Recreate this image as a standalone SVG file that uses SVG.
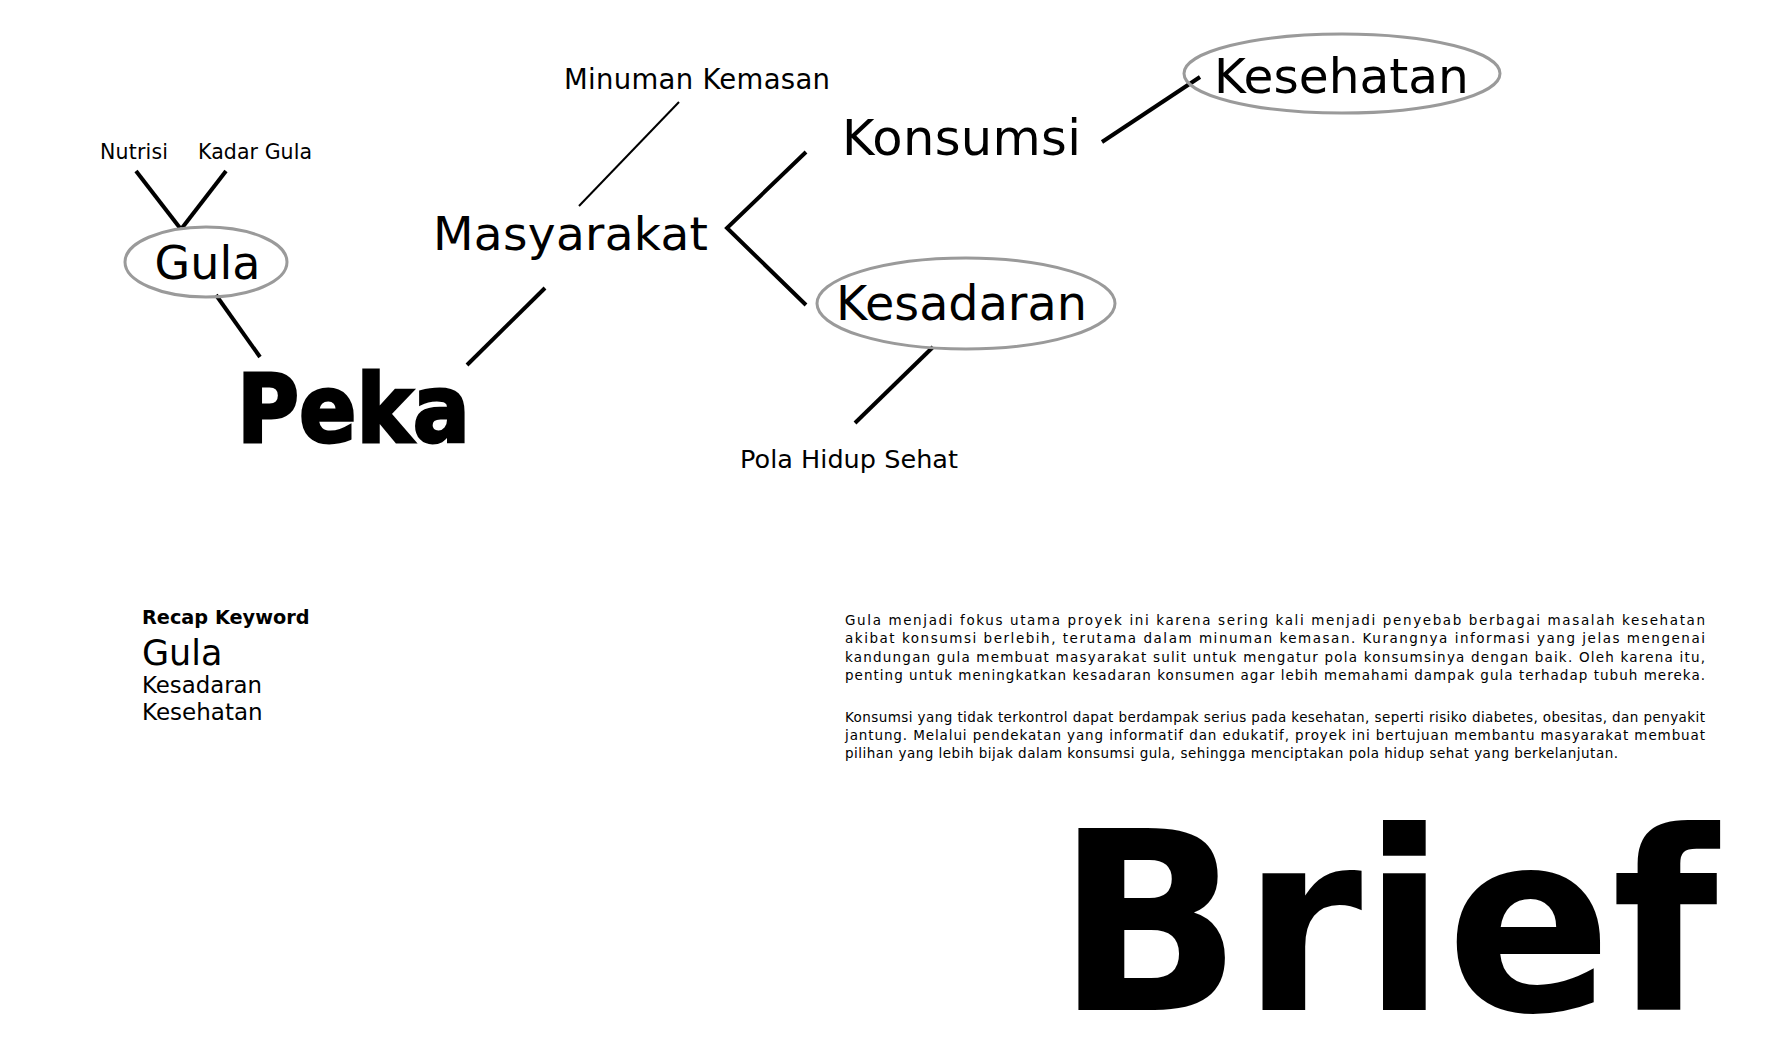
<svg xmlns="http://www.w3.org/2000/svg" width="1780" height="1052" viewBox="0 0 1780 1052">
<style>
text{font-family:"DejaVu Sans","Liberation Sans",sans-serif;fill:#000}
.b{font-weight:bold}
.ell{fill:none;stroke:#9a9a9a;stroke-width:3}
.ln{stroke:#000;stroke-width:4;fill:none;stroke-linecap:butt}
.thin{stroke:#000;stroke-width:2;fill:none}
.p{font-size:13.5px}
</style>
<rect width="1780" height="1052" fill="#fff"/>
<g id="connectors">
<line class="ln" x1="136" y1="171" x2="180" y2="228"/>
<line class="ln" x1="226" y1="171" x2="182" y2="228"/>
<line class="ln" x1="216" y1="295" x2="260" y2="357"/>
<line class="ln" x1="467" y1="365" x2="545" y2="288"/>
<line class="thin" x1="679" y1="102" x2="579" y2="206"/>
<polyline class="ln" points="806,152 727,228 806,305"/>
<line class="ln" x1="1102" y1="142" x2="1200" y2="77"/>
<line class="ln" x1="933" y1="347" x2="855" y2="423"/>
</g>
<g id="node-nutrisi"><text x="100" y="159" font-size="20.5" textLength="68">Nutrisi</text></g>
<g id="node-kadar-gula"><text x="198" y="159" font-size="20.5" textLength="114">Kadar Gula</text></g>
<g id="node-gula">
<ellipse class="ell" cx="206" cy="262" rx="81" ry="35"/>
<text x="207.5" y="279" font-size="46" text-anchor="middle">Gula</text>
</g>
<g id="node-peka"><text class="b" x="237" y="442" font-size="95" stroke="#000" stroke-width="3" textLength="233" lengthAdjust="spacingAndGlyphs">Peka</text></g>
<g id="node-minuman"><text x="564" y="89" font-size="27.5" textLength="266">Minuman Kemasan</text></g>
<g id="node-masyarakat"><text x="433" y="250" font-size="47" textLength="275">Masyarakat</text></g>
<g id="node-konsumsi"><text x="842" y="155" font-size="49.5" textLength="239">Konsumsi</text></g>
<g id="node-kesehatan">
<ellipse class="ell" cx="1342" cy="73.5" rx="158" ry="39.5"/>
<text x="1341.5" y="93" font-size="48.6" text-anchor="middle">Kesehatan</text>
</g>
<g id="node-kesadaran">
<ellipse class="ell" cx="966" cy="303.5" rx="149" ry="45.5"/>
<text x="961.5" y="320" font-size="47.7" text-anchor="middle">Kesadaran</text>
</g>
<g id="node-pola"><text x="740" y="468" font-size="25.5" textLength="218">Pola Hidup Sehat</text></g>
<g id="recap">
<text class="b" x="142" y="624" font-size="19.3">Recap Keyword</text>
<text x="142" y="665" font-size="35">Gula</text>
<text x="142" y="693" font-size="22.8">Kesadaran</text>
<text x="142" y="720" font-size="23">Kesehatan</text>
</g>
<g id="paragraph">
<text class="p" x="845" y="625" textLength="860">Gula menjadi fokus utama proyek ini karena sering kali menjadi penyebab berbagai masalah kesehatan</text>
<text class="p" x="845" y="643" textLength="860">akibat konsumsi berlebih, terutama dalam minuman kemasan. Kurangnya informasi yang jelas mengenai</text>
<text class="p" x="845" y="662" textLength="860">kandungan gula membuat masyarakat sulit untuk mengatur pola konsumsinya dengan baik. Oleh karena itu,</text>
<text class="p" x="845" y="680" textLength="860">penting untuk meningkatkan kesadaran konsumen agar lebih memahami dampak gula terhadap tubuh mereka.</text>
<text class="p" x="845" y="722" textLength="860">Konsumsi yang tidak terkontrol dapat berdampak serius pada kesehatan, seperti risiko diabetes, obesitas, dan penyakit</text>
<text class="p" x="845" y="740" textLength="860">jantung. Melalui pendekatan yang informatif dan edukatif, proyek ini bertujuan membantu masyarakat membuat</text>
<text class="p" x="845" y="758" textLength="773">pilihan yang lebih bijak dalam konsumsi gula, sehingga menciptakan pola hidup sehat yang berkelanjutan.</text>
</g>
<g id="title-brief"><text class="b" x="1056" y="1010" font-size="250" textLength="662" lengthAdjust="spacingAndGlyphs">Brief</text></g>
</svg>
